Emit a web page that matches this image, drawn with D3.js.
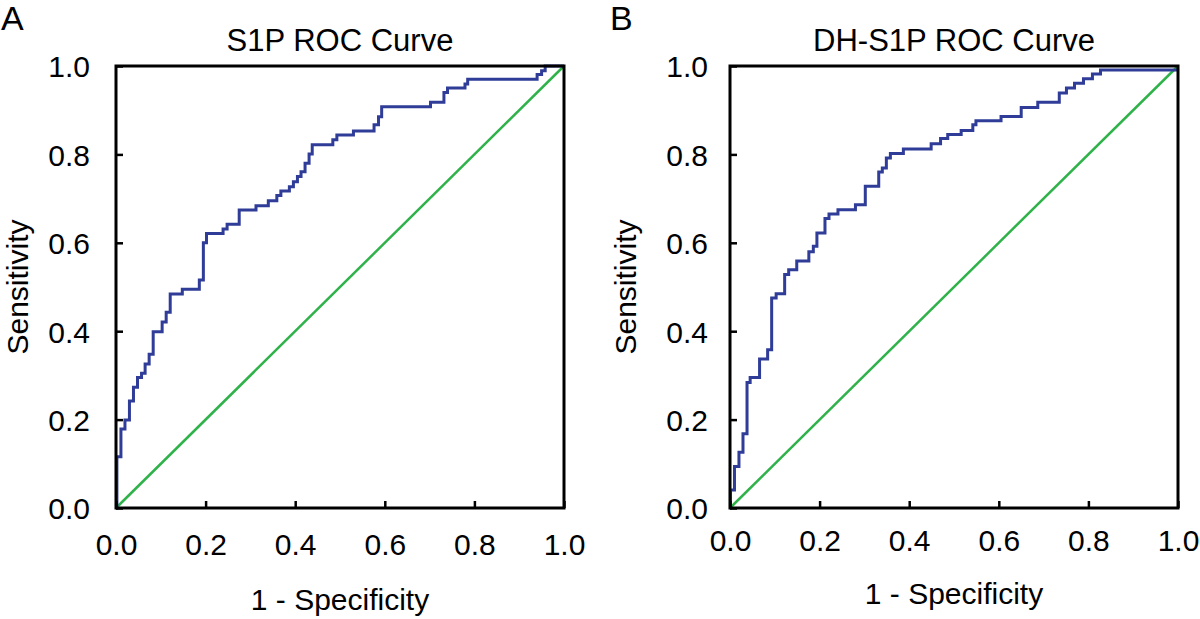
<!DOCTYPE html>
<html>
<head>
<meta charset="utf-8">
<script src="https://cdn.jsdelivr.net/npm/d3@7"></script>
<style>
  html, body { margin: 0; padding: 0; background: #fff; }
  svg { display: block; font-family: "Liberation Sans", Arial, sans-serif; }
</style>
</head>
<body>
<svg id="chart" width="1200" height="619"></svg>
<script>
// ---- Data ----
const panelLetters = ["A", "B"];
const panelTitles = ["S1P ROC Curve", "DH-S1P ROC Curve"];
const xAxisTitle = "1 - Specificity";
const yAxisTitle = "Sensitivity";
const tickValues = [0, 0.2, 0.4, 0.6, 0.8, 1.0];
const tickLabels = ["0.0", "0.2", "0.4", "0.6", "0.8", "1.0"];

// ROC step points: [1 - specificity, sensitivity] (each point = top of a vertical jump)
const rocS1P = [
  [0,0],[0.002,0.116],[0.011,0.179],[0.020,0.199],[0.030,0.242],[0.039,0.273],[0.048,0.295],
  [0.057,0.305],[0.065,0.326],[0.074,0.348],[0.083,0.399],[0.103,0.421],[0.112,0.443],
  [0.121,0.484],[0.148,0.495],[0.186,0.516],[0.195,0.600],[0.202,0.621],[0.239,0.631],
  [0.248,0.642],[0.275,0.674],[0.3125,0.684],[0.340,0.695],[0.359,0.707],[0.368,0.717],
  [0.387,0.727],[0.396,0.738],[0.405,0.750],[0.413,0.761],[0.422,0.780],[0.431,0.801],
  [0.438,0.822],[0.484,0.833],[0.493,0.844],[0.530,0.853],[0.576,0.867],[0.586,0.885],
  [0.593,0.908],[0.702,0.918],[0.732,0.940],[0.740,0.950],[0.779,0.959],[0.785,0.970],
  [0.940,0.981],[0.950,0.989],[0.958,1.0],[1.0,1.0]
];
const rocDHS1P = [
  [0,0],[0.001,0.041],[0.010,0.094],[0.020,0.126],[0.029,0.168],[0.038,0.284],[0.045,0.295],
  [0.066,0.337],[0.084,0.358],[0.093,0.475],[0.103,0.485],[0.122,0.528],[0.131,0.539],
  [0.149,0.559],[0.176,0.580],[0.186,0.592],[0.194,0.622],[0.212,0.655],[0.221,0.665],
  [0.241,0.675],[0.280,0.686],[0.302,0.728],[0.332,0.760],[0.340,0.769],[0.349,0.792],
  [0.358,0.802],[0.387,0.812],[0.449,0.824],[0.470,0.836],[0.486,0.845],[0.516,0.854],
  [0.542,0.867],[0.549,0.876],[0.605,0.886],[0.650,0.906],[0.687,0.918],[0.735,0.939],
  [0.751,0.950],[0.769,0.961],[0.789,0.971],[0.809,0.982],[0.827,0.991],[1.0,0.991]
];
const referenceLine = [[0,0],[1,1]];
const rocSeries = [rocS1P, rocDHS1P];

// ---- Layout ----
const panels = [
  { x0: 116, x1: 564, y0: 508, y1: 66, letterX: 1, letterY: 30, titleY: 51,
    xTickPad: 26, xTitleY: 610, yTickPad: 26, yTitleX: 28 },
  { x0: 730, x1: 1178, y0: 508, y1: 66, letterX: 610, letterY: 30, titleY: 51,
    xTickPad: 22, xTitleY: 604, yTickPad: 22, yTitleX: 636 }
];

const svg = d3.select("#chart");
const blue = "#2f3c98";
const green = "#2fb24a";

panels.forEach((p, i) => {
  const x = d3.scaleLinear().domain([0, 1]).range([p.x0, p.x1]);
  const y = d3.scaleLinear().domain([0, 1]).range([p.y0, p.y1]);
  const g = svg.append("g");

  // panel letter
  g.append("text").attr("x", p.letterX).attr("y", p.letterY)
    .attr("font-size", 34).attr("fill", "#000").text(panelLetters[i]);

  // title
  g.append("text").attr("x", (p.x0 + p.x1) / 2).attr("y", p.titleY)
    .attr("text-anchor", "middle").attr("font-size", 31).attr("fill", "#000")
    .text(panelTitles[i]);

  // reference diagonal
  const line = d3.line().x(d => x(d[0])).y(d => y(d[1]));
  g.append("path").datum(referenceLine).attr("d", line)
    .attr("fill", "none").attr("stroke", green).attr("stroke-width", 2.5);

  // ROC step curve
  const stepLine = d3.line().x(d => x(d[0])).y(d => y(d[1])).curve(d3.curveStepAfter);
  g.append("path").datum(rocSeries[i]).attr("d", stepLine)
    .attr("fill", "none").attr("stroke", blue).attr("stroke-width", 3)
    .attr("stroke-linejoin", "miter");

  // axes (inward ticks)
  const xAxis = d3.axisBottom(x).tickValues(tickValues)
    .tickFormat((d, k) => tickLabels[k]).tickSizeInner(-7).tickSizeOuter(0).tickPadding(p.xTickPad);
  const yAxis = d3.axisLeft(y).tickValues(tickValues)
    .tickFormat((d, k) => tickLabels[k]).tickSizeInner(-7).tickSizeOuter(0).tickPadding(p.yTickPad);

  const gx = g.append("g").attr("transform", `translate(0,${p.y0})`).call(xAxis);
  const gy = g.append("g").attr("transform", `translate(${p.x0},0)`).call(yAxis);
  [gx, gy].forEach(a => {
    a.select(".domain").remove();
    a.selectAll(".tick line").attr("stroke", "#000").attr("stroke-width", 2.5);
    a.selectAll(".tick text").attr("font-size", 30).attr("fill", "#000")
      .attr("font-family", "Liberation Sans, Arial, sans-serif");
  });
  gy.selectAll(".tick text").attr("dy", "0.36em");

  // frame
  g.append("rect").attr("x", p.x0).attr("y", p.y1)
    .attr("width", p.x1 - p.x0).attr("height", p.y0 - p.y1)
    .attr("fill", "none").attr("stroke", "#000").attr("stroke-width", 3);

  // axis titles
  g.append("text").attr("x", (p.x0 + p.x1) / 2).attr("y", p.xTitleY)
    .attr("text-anchor", "middle").attr("font-size", 30).attr("fill", "#000")
    .text(xAxisTitle);
  g.append("text")
    .attr("transform", `translate(${p.yTitleX},${(p.y0 + p.y1) / 2}) rotate(-90)`)
    .attr("text-anchor", "middle").attr("font-size", 30).attr("fill", "#000")
    .text(yAxisTitle);
});
</script>
</body>
</html>
